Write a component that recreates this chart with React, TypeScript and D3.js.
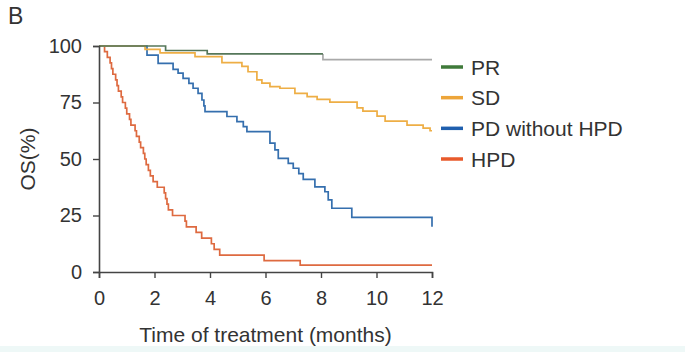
import { useEffect, useRef } from 'react';
import * as d3 from 'd3';

// Kaplan-Meier steps: [month, OS %] where survival drops at that month
const prSteps: [number, number][] = [[0, 100], [2.4, 98], [3.9, 96.5], [8.07, 96.5]];
const prTail: [number, number][] = [[8.07, 96.5], [8.07, 94], [12, 94]];
const sdSteps: [number, number][] = [
	[0, 100], [1.66, 98.5], [2.2, 97], [3.46, 95.3], [4.43, 92.6], [5.15, 91], [5.37, 88.6],
	[5.69, 85], [5.87, 83.6], [6.16, 82], [6.52, 81.3], [7.06, 79], [7.5, 77.6], [7.86, 76.4],
	[8.32, 75.2], [9.3, 72.6], [9.51, 71.2], [10.02, 69], [10.31, 66.8], [11.1, 65], [11.68, 63.7],
	[11.93, 62.5], [12, 62.5],
];
const pdSteps: [number, number][] = [
	[0, 100], [1.73, 96], [2.13, 92.3], [2.67, 89.7], [2.85, 88], [3.03, 85.7], [3.24, 83.5],
	[3.39, 81.3], [3.57, 79], [3.71, 76.1], [3.78, 73.5], [3.82, 71], [4.61, 68.8], [4.97, 66.5],
	[5.2, 64.3], [5.33, 62.1], [6.16, 57], [6.34, 54], [6.46, 50.3], [6.82, 48.1], [7.0, 45.9],
	[7.2, 43.5], [7.36, 41], [7.78, 37.7], [8.14, 35.5], [8.26, 31.9], [8.39, 28.2], [9.11, 24.2],
	[12, 20],
];
const hpdSteps: [number, number][] = [
	[0, 100], [0.2, 97.5], [0.3, 95], [0.4, 92.5], [0.45, 90], [0.5, 87.5], [0.6, 85], [0.65, 82.5],
	[0.7, 80], [0.8, 77.5], [0.85, 75], [0.95, 72.5], [1.0, 70], [1.1, 67.5], [1.15, 65], [1.3, 62.5],
	[1.35, 60], [1.45, 57.5], [1.5, 55], [1.6, 52.5], [1.65, 50], [1.7, 47.5], [1.78, 45], [1.85, 42.5],
	[1.95, 40], [2.1, 37.5], [2.35, 35], [2.4, 32.5], [2.45, 30], [2.5, 27.5], [2.65, 25], [3.1, 22.5],
	[3.15, 20], [3.5, 17.5], [3.7, 15], [4.05, 12.5], [4.15, 10], [4.35, 7.5], [5.95, 5], [7.25, 3],
	[12, 3],
];

const xTicks = [0, 2, 4, 6, 8, 10, 12];
const yTicks = [0, 25, 50, 75, 100];
const legendLabels = ['PR', 'SD', 'PD without HPD', 'HPD'];
const legendColors = ['#3f7a3a', '#eda53a', '#1f5fae', '#e85a2b'];

const W = 685;
const H = 352;
const FONT = 'Liberation Sans, Arial, sans-serif';

export default function App() {
	const svgRef = useRef<SVGSVGElement>(null);

	useEffect(() => {
		if (!svgRef.current) return;
		const svg = d3.select(svgRef.current);
		svg.selectAll('*').remove();

		const x = d3.scaleLinear().domain([0, 12]).range([99, 432]);
		const y = d3.scaleLinear().domain([0, 100]).range([272, 46]);
		const axisColor = '#444';
		const textColor = '#333';

		svg.append('rect').attr('width', W).attr('height', H).attr('fill', '#fff');
		// faint tinted strip along the bottom edge of the scan
		svg.append('rect').attr('y', 346).attr('width', W).attr('height', 6).attr('fill', '#eef8f7');

		// Panel letter
		svg.append('text').attr('x', 8).attr('y', 24).text('B')
			.style('font-family', FONT).style('font-size', '23px').attr('fill', textColor);

		const line = d3.line<[number, number]>()
			.x((d) => x(d[0]))
			.y((d) => y(d[1]))
			.curve(d3.curveStepAfter);

		const curves: { data: [number, number][]; color: string }[] = [
			{ data: prTail, color: '#a9a9a9' },
			{ data: hpdSteps, color: '#de6a40' },
			{ data: pdSteps, color: '#356fae' },
			{ data: sdSteps, color: '#eeae45' },
			{ data: prSteps, color: '#55775a' },
		];
		curves.forEach((c) => {
			svg.append('path')
				.datum(c.data)
				.attr('fill', 'none')
				.attr('stroke', c.color)
				.attr('stroke-width', 1.7)
				.attr('d', line);
		});

		// X axis
		const gx = svg.append('g')
			.attr('transform', `translate(0,${y(0)})`)
			.call(d3.axisBottom(x).tickValues(xTicks).tickSize(6).tickPadding(13).tickFormat(d3.format('d')));
		gx.select('.domain').attr('stroke', axisColor).attr('stroke-width', 1.6);
		gx.selectAll('.tick line').attr('stroke', axisColor).attr('stroke-width', 1.4);
		gx.selectAll('text').style('font-family', FONT).style('font-size', '20px').attr('fill', textColor);

		// Y axis
		const gy = svg.append('g')
			.attr('transform', `translate(${x(0)},0)`)
			.call(d3.axisLeft(y).tickValues(yTicks).tickSize(6).tickPadding(11));
		gy.select('.domain').attr('stroke', axisColor).attr('stroke-width', 1.6);
		gy.selectAll('.tick line').attr('stroke', axisColor).attr('stroke-width', 1.4);
		gy.selectAll('text').style('font-family', FONT).style('font-size', '20px').attr('fill', textColor);

		// Axis titles
		svg.append('text')
			.attr('x', (x(0) + x(12)) / 2)
			.attr('y', 342)
			.attr('text-anchor', 'middle')
			.text('Time of treatment (months)')
			.style('font-family', FONT).style('font-size', '21px').attr('fill', textColor);
		svg.append('text')
			.attr('transform', `translate(35,${(y(0) + y(100)) / 2}) rotate(-90)`)
			.attr('text-anchor', 'middle')
			.text('OS(%)')
			.style('font-family', FONT).style('font-size', '21px').attr('fill', textColor);

		// Legend
		const legendY = d3.scalePoint<string>().domain(legendLabels).range([67, 159]);
		legendLabels.forEach((label, i) => {
			const ly = legendY(label)!;
			svg.append('line')
				.attr('x1', 441).attr('x2', 463).attr('y1', ly).attr('y2', ly)
				.attr('stroke', legendColors[i]).attr('stroke-width', 3.5);
			svg.append('text')
				.attr('x', 471).attr('y', ly + 7.5)
				.text(label)
				.style('font-family', FONT).style('font-size', '21px').attr('fill', textColor);
		});
	}, []);

	return (
		<svg
			ref={svgRef}
			width={W}
			height={H}
			style={{ position: 'absolute', left: 0, top: 0, background: '#fff' }}
		/>
	);
}
